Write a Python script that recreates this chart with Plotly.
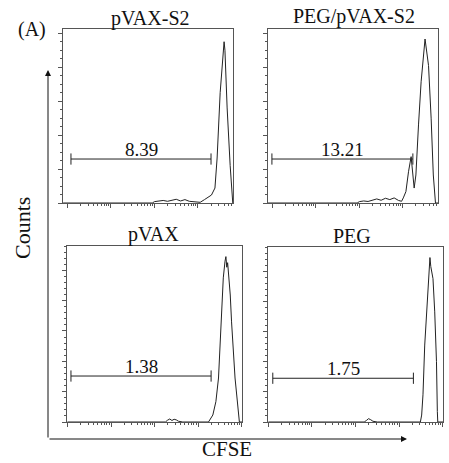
import numpy as np
import plotly.graph_objects as go

W, H = 449, 463

# ---------------- data (x = log10 CFSE intensity, y = counts) ----------------
panel_titles = ["pVAX-S2", "PEG/pVAX-S2", "pVAX", "PEG"]

s2_x = [-0.1, 1.95, 2.0, 2.1, 2.2, 2.3, 2.4, 2.5, 2.6, 2.7, 2.8, 2.9, 2.98, 3.05, 3.15,
        3.23, 3.31, 3.39, 3.44, 3.51, 3.57, 3.60, 3.62, 3.67, 3.74, 3.80]
s2_y = [0, 0, 0.8, 1.2, 1.5, 1.0, 1.8, 2.2, 1.2, 2.0, 1.0, 0.8, 0.3, 0.4, 2.0,
        3.5, 4.7, 8.8, 26.5, 65, 89, 95, 90, 56, 22, 0]

peg_s2_x = [-0.1, 1.95, 2.0, 2.1, 2.2, 2.3, 2.4, 2.5, 2.6, 2.7, 2.8, 2.9, 2.97, 3.01,
            3.07, 3.13, 3.19, 3.26, 3.30, 3.36, 3.42, 3.51, 3.59, 3.65, 3.70, 3.75, 3.81]
peg_s2_y = [0, 0, 0.8, 1.2, 0.9, 1.8, 2.4, 1.6, 2.8, 2.0, 3.0, 1.5, 1.0, 3.0,
            6.7, 18.4, 27.3, 8.8, 16.5, 46, 71.4, 96.6, 81, 50, 16.5, 0, 0]

vax_x = [0, 2.25, 2.3, 2.35, 2.4, 2.45, 2.5, 2.55, 2.65, 3.24, 3.34, 3.41, 3.47, 3.53,
         3.58, 3.62, 3.64, 3.66, 3.68, 3.74, 3.77, 3.85, 3.93, 3.95, 4.01]
vax_y = [0, 0, 1.2, 2.0, 1.0, 1.8, 1.4, 0.5, 0, 0, 4.6, 13.4, 29, 62,
         95, 106, 109, 102, 105, 83.7, 66, 29, 2.6, 0, 0]

peg_x = [0, 2.2, 2.25, 2.3, 2.35, 2.4, 2.5, 3.49, 3.52, 3.55, 3.59, 3.65, 3.69, 3.71,
         3.73, 3.78, 3.82, 3.86, 3.88, 3.89, 4.01]
peg_y = [0, 0, 1.0, 2.2, 1.5, 0.5, 0, 0, 4.6, 18, 51, 84, 105, 109,
         103, 95, 73, 40, 7, 0, 0]

gate_lo = [0.08, -0.01, 0.08, 0.10]
gate_hi = [3.30, 3.23, 3.30, 3.33]
gate_level = [25.9, 25.9, 30.3, 29.0]
gate_pct = ["8.39", "13.21", "1.38", "1.75"]

# ---------------- layout geometry ----------------
def px_x(p):
    return p / W

def px_y(p):
    return 1 - p / H

boxes = [  # left, right, top, bottom (pixels)
    (63, 233, 29, 203),
    (268, 438, 29, 203),
    (67, 242, 246, 422),
    (268, 443, 247, 422),
]
x_ranges = [[-0.103, 3.805], [-0.10, 3.808], [-0.011, 4.01], [-0.01, 4.01]]
y_ranges = [[0, 102.5], [0, 102.5], [0, 116], [0, 116]]
y_minor = [4, 4, 5, 5]

series = [(s2_x, s2_y), (peg_s2_x, peg_s2_y), (vax_x, vax_y), (peg_x, peg_y)]

FONT = "Liberation Serif, Times New Roman, serif"
AX_COL = "#555555"
LINE_COL = "#222222"

fig = go.Figure()
layout_axes = {}
annotations = []

for i in range(4):
    n = "" if i == 0 else str(i + 1)
    xa, ya = "x" + n, "y" + n
    l, r, t, b = boxes[i]
    x0, x1 = x_ranges[i]
    decades = [d for d in range(0, 5) if x0 <= d <= x1]
    minors = [np.log10(k) + d for d in range(0, 4) for k in range(2, 10)
              if x0 <= np.log10(k) + d <= x1]

    fig.add_trace(go.Scatter(x=series[i][0], y=series[i][1], mode="lines",
                             line=dict(color=LINE_COL, width=1),
                             xaxis=xa, yaxis=ya, showlegend=False, hoverinfo="skip"))
    fig.add_trace(go.Scatter(x=[gate_lo[i], gate_hi[i]], y=[gate_level[i]] * 2,
                             mode="lines+markers",
                             line=dict(color=LINE_COL, width=1),
                             marker=dict(symbol="line-ns", size=8,
                                         line=dict(color=LINE_COL, width=1)),
                             xaxis=xa, yaxis=ya, showlegend=False, hoverinfo="skip"))
    annotations.append(dict(x=(gate_lo[i] + gate_hi[i]) / 2, y=gate_level[i],
                            xref=xa, yref=ya, text=gate_pct[i], showarrow=False,
                            xanchor="center", yanchor="bottom", yshift=-3,
                            font=dict(family=FONT, size=19, color="#111")))

    layout_axes["xaxis" + n] = dict(
        domain=[px_x(l), px_x(r)], range=x_ranges[i], anchor=ya,
        showgrid=False, zeroline=False, showline=True, linecolor=AX_COL,
        linewidth=1, mirror=True, ticks="outside", ticklen=4, tickcolor=AX_COL,
        tickmode="array", tickvals=decades, showticklabels=False,
        minor=dict(tickmode="array", tickvals=minors, ticks="outside",
                   ticklen=2, tickcolor=AX_COL, showgrid=False),
    )
    layout_axes["yaxis" + n] = dict(
        domain=[px_y(b), px_y(t)], range=y_ranges[i], anchor=xa,
        showgrid=False, zeroline=False, showline=True, linecolor=AX_COL,
        linewidth=1, mirror=True, ticks="outside", ticklen=4, tickcolor=AX_COL,
        dtick=20, showticklabels=False,
        minor=dict(dtick=20 / y_minor[i], ticks="outside", ticklen=2,
                   tickcolor=AX_COL, showgrid=False),
    )

# panel titles
title_pos = [(150, 18), (354, 17), (153, 234), (352, 236)]
for (tx, ty), txt in zip(title_pos, panel_titles):
    annotations.append(dict(x=px_x(tx), y=px_y(ty), xref="paper", yref="paper",
                            text=txt, showarrow=False, xanchor="center",
                            yanchor="middle",
                            font=dict(family=FONT, size=20, color="#111")))

annotations.append(dict(x=px_x(32), y=px_y(29), xref="paper", yref="paper",
                        text="(A)", showarrow=False, xanchor="center",
                        yanchor="middle",
                        font=dict(family=FONT, size=20, color="#111")))
annotations.append(dict(x=px_x(22), y=px_y(228), xref="paper", yref="paper",
                        text="Counts", showarrow=False, textangle=-90,
                        xanchor="center", yanchor="middle",
                        font=dict(family=FONT, size=22, color="#111")))
annotations.append(dict(x=px_x(227), y=px_y(449), xref="paper", yref="paper",
                        text="CFSE", showarrow=False, xanchor="center",
                        yanchor="middle",
                        font=dict(family=FONT, size=21, color="#111")))

# outer axis arrows
annotations.append(dict(x=px_x(48), y=px_y(70), xref="paper", yref="paper",
                        ax=0, ay=369, axref="pixel", ayref="pixel", text="",
                        showarrow=True, arrowhead=2, arrowsize=1.2, arrowwidth=1,
                        arrowcolor="#111"))
annotations.append(dict(x=px_x(407), y=px_y(439), xref="paper", yref="paper",
                        ax=-359, ay=0, axref="pixel", ayref="pixel", text="",
                        showarrow=True, arrowhead=2, arrowsize=1.2, arrowwidth=1,
                        arrowcolor="#111"))

fig.update_layout(
    width=W, height=H, margin=dict(l=0, r=0, t=0, b=0),
    paper_bgcolor="white", plot_bgcolor="white",
    annotations=annotations, **layout_axes,
)

fig.write_html(
    "out.html",
    config={"displayModeBar": False},
    post_script="document.body.style.margin='0';document.body.style.overflow='hidden';",
)
